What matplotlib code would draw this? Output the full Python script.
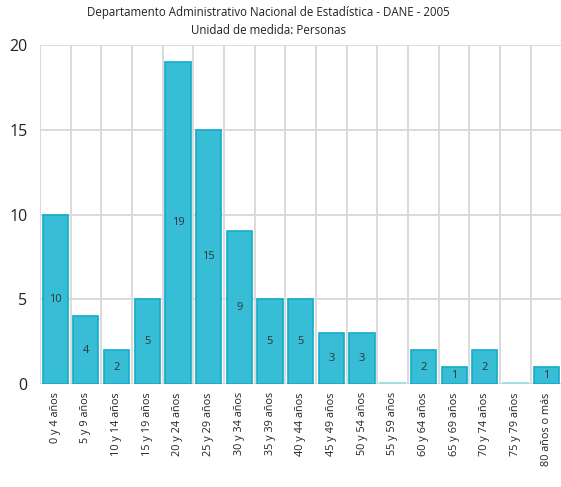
import matplotlib.pyplot as plt

plt.rcParams['font.family'] = ['Open Sans', 'DejaVu Sans']

grupos = ['0 y 4 años', '5 y 9 años', '10 y 14 años', '15 y 19 años',
          '20 y 24 años', '25 y 29 años', '30 y 34 años', '35 y 39 años',
          '40 y 44 años', '45 y 49 años', '50 y 54 años', '55 y 59 años',
          '60 y 64 años', '65 y 69 años', '70 y 74 años', '75 y 79 años',
          '80 años o más']
personas = [10, 4, 2, 5, 19, 15, 9, 5, 5, 3, 3, 0, 2, 1, 2, 0, 1]

fig = plt.figure(figsize=(5.61, 4.87), dpi=100)
ax = fig.add_axes([0.071, 0.2115, 0.93, 0.696])

x = list(range(len(grupos)))
ax.bar(x, personas, width=0.82, color='#38bdd6', edgecolor='#13abc8',
       linewidth=1.2, zorder=3)
# barras en cero: una raya fina
for i, v in enumerate(personas):
    if v == 0:
        ax.plot([i - 0.41, i + 0.41], [0.04, 0.04], color='#a8dde8',
                lw=1.5, zorder=3)
    else:
        ax.text(i, v / 2, str(v), ha='center', va='center', fontsize=8,
                color='#333333', zorder=4)

ax.set_xlim(-0.5, len(grupos) - 0.5)
ax.set_ylim(0, 20)
ax.set_yticks([0, 5, 10, 15, 20])
ax.set_xticks([i + 0.5 for i in range(-1, len(grupos))], minor=False)
ax.set_xticklabels([])
ax.set_xticks(x, minor=True)
ax.set_xticklabels(grupos, minor=True, rotation=90, fontsize=7.8,
                   color='#222222')
ax.tick_params(axis='both', which='both', length=0, pad=6)
ax.tick_params(axis='y', labelsize=11.5, colors='#222222', pad=9)
ax.grid(True, which='major', color='#d8d8d8', lw=1.3, zorder=0)
for s in ax.spines.values():
    s.set_visible(False)

fig.text(0.478, 0.974, 'Departamento Administrativo Nacional de Estadística - DANE - 2005',
         ha='center', va='center', fontsize=8.3, color='#222222')
fig.text(0.478, 0.938, 'Unidad de medida: Personas',
         ha='center', va='center', fontsize=8.3, color='#222222')

fig.savefig('out.png', dpi=100)
